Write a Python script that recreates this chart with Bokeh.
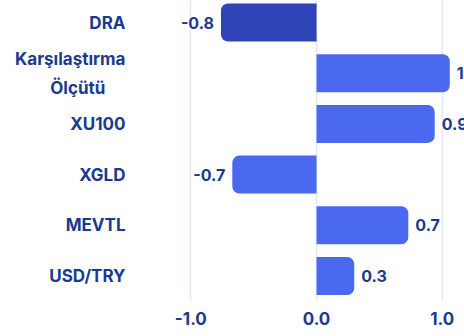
from bokeh.plotting import figure
from bokeh.models import ColumnDataSource, FixedTicker, Range1d
from bokeh.core.properties import value
from bokeh.embed import file_html
from bokeh.resources import INLINE

categories = ["DRA", "Karşılaştırma\nÖlçütü", "XU100", "XGLD", "MEVTL", "USD/TRY"]
values = [-0.76, 1.06, 0.94, -0.67, 0.73, 0.30]
highlight = ["DRA"]
x_ticks = [-1.0, 0.0, 1.0]

DARK = "#2f44b6"
BAR = "#4b69ef"
NAVY = "#1b3a8e"
GRID = "#e2e7f2"
FONT = "Inter"
PAD = "\u00a0" * 5

pos = list(range(len(categories)))
colors = [DARK if c in highlight else BAR for c in categories]
labels = [f"{v:.1f}" for v in values]
shown = [c + (PAD if "\n" in c else "") for c in categories]

def subset(cond):
    idx = [i for i, v in enumerate(values) if cond(v)]
    return ColumnDataSource(dict(
        y=[pos[i] for i in idx],
        v=[values[i] for i in idx],
        c=[colors[i] for i in idx],
        t=[labels[i] for i in idx],
    ))

src_pos = subset(lambda v: v >= 0)
src_neg = subset(lambda v: v < 0)

p = figure(width=464, height=336, output_backend="svg", toolbar_location=None,
           x_range=Range1d(-1.44, 1.177), y_range=Range1d(5.483, -0.434),
           min_border_left=135, min_border_right=0, min_border_top=0,
           min_border_bottom=36)
p.outline_line_color = None
p.background_fill_color = "white"

p.hbar(y="y", left=0, right="v", height=0.75, source=src_pos, fill_color="c",
       line_color=None, border_radius=(0, 7, 7, 0))
p.hbar(y="y", left=0, right="v", height=0.75, source=src_neg, fill_color="c",
       line_color=None, border_radius=(7, 0, 0, 7))

p.text(x="v", y="y", text="t", source=src_pos, x_offset=7, text_align="left",
       text_baseline="middle", text_color=NAVY, text_font=value(FONT),
       text_font_style="bold", text_font_size="16px")
p.text(x="v", y="y", text="t", source=src_neg, x_offset=-7, text_align="right",
       text_baseline="middle", text_color=NAVY, text_font=value(FONT),
       text_font_style="bold", text_font_size="16px")

p.xaxis.ticker = FixedTicker(ticks=x_ticks)
p.xaxis.major_label_overrides = {t: f"{t:.1f}" for t in x_ticks}
p.yaxis.ticker = FixedTicker(ticks=pos)
p.yaxis.major_label_overrides = {i: c for i, c in zip(pos, shown)}

for ax in (p.xaxis[0], p.yaxis[0]):
    ax.axis_line_color = None
    ax.major_tick_line_color = None
    ax.minor_tick_line_color = None
    ax.major_tick_out = 0
    ax.major_tick_in = 0
    ax.major_label_text_font = FONT
    ax.major_label_text_font_style = "bold"
    ax.major_label_text_color = NAVY
p.xaxis.major_label_text_font_size = "17px"
p.yaxis.major_label_text_font_size = "17px"
p.yaxis.major_label_text_line_height = 1.45
p.xaxis.major_label_standoff = 11
p.yaxis.major_label_standoff = 10

p.xgrid.grid_line_color = GRID
p.xgrid.grid_line_width = 1.5
p.ygrid.grid_line_color = None

open("out.html", "w").write(file_html(p, INLINE))
